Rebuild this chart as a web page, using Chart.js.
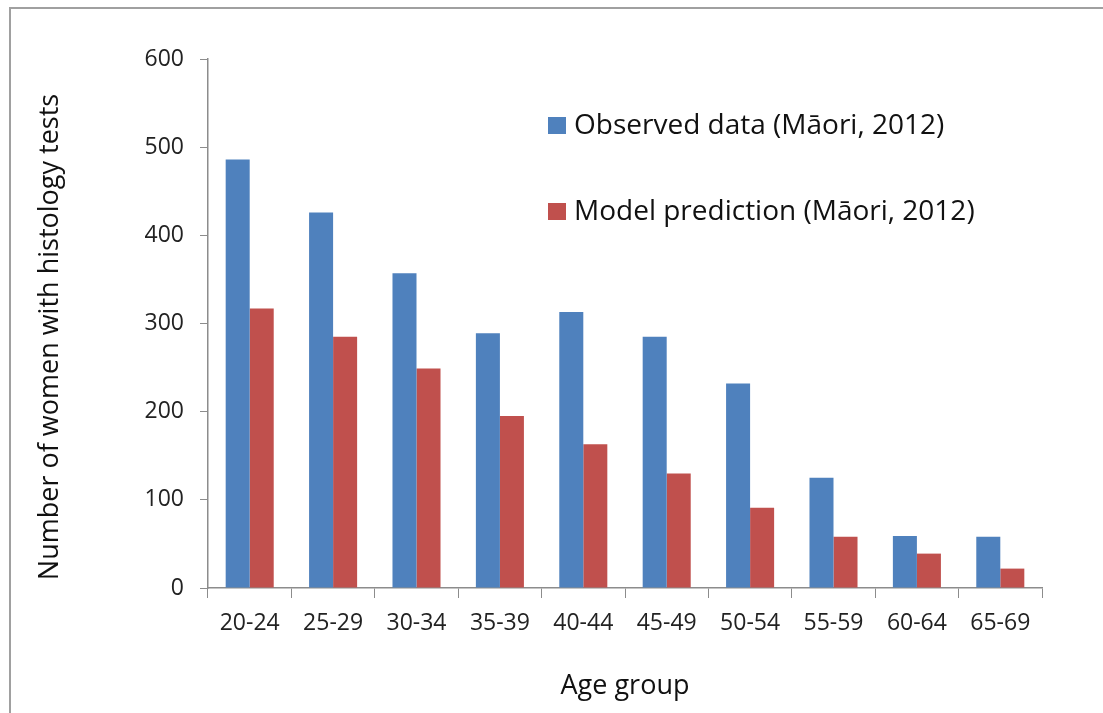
<!DOCTYPE html>
<html>
<head>
<meta charset="utf-8">
<script src="https://cdn.jsdelivr.net/npm/chart.js@4"></script>
<style>
  body { margin: 0; background: #fff; }
  #wrap { position: relative; width: 1103px; height: 713px; }
  #frame { position: absolute; left: 9px; top: 7px; right: -10px; bottom: -10px;
           border-top: 2px solid #a0a0a0; border-left: 2px solid #a0a0a0; pointer-events: none; }
</style>
</head>
<body>
<div id="wrap">
  <canvas id="chartBars" width="1103" height="713"></canvas>
  <div id="frame"></div>
</div>
<script>
// data
var ageGroups = ["20-24", "25-29", "30-34", "35-39", "40-44", "45-49", "50-54", "55-59", "60-64", "65-69"];
var observed = [486, 426, 357, 289, 313, 285, 232, 125, 59, 58];
var predicted = [317, 285, 249, 195, 163, 130, 91, 58, 39, 22];
var seriesNames = ["Observed data (Māori, 2012)", "Model prediction (Māori, 2012)"];
var yTicks = [0, 100, 200, 300, 400, 500, 600];
var yTitle = "Number of women with histology tests";

var fontName = "'Open Sans', sans-serif";
var axisGrey = "#8c8c8c";

// legend sits inside the plot and the y title is off-centre, so draw them by hand
var extraText = {
  id: 'extraText',
  afterDraw: function(chart) {
    var ctx = chart.ctx;
    ctx.save();
    ctx.font = "28px " + fontName;
    ctx.textBaseline = "middle";
    var rows = [125, 211];
    chart.data.datasets.forEach(function(ds, i) {
      ctx.fillStyle = ds.backgroundColor;
      ctx.fillRect(548, rows[i] - 8, 18, 17);
      ctx.fillStyle = "#111";
      ctx.fillText(ds.label, 574, rows[i] + 1);
    });
    ctx.restore();

    ctx.save();
    ctx.font = "27px " + fontName;
    ctx.fillStyle = "#111";
    ctx.textAlign = "center";
    ctx.textBaseline = "middle";
    ctx.translate(50, 337);
    ctx.rotate(-Math.PI / 2);
    ctx.fillText(yTitle, 0, 0);
    ctx.restore();
  }
};

var chartBars = document.getElementById("chartBars");
if (chartBars) {
  var myChart = new Chart(chartBars, {
    type: 'bar',
    data: {
      labels: ageGroups,
      datasets: [{
        label: seriesNames[0],
        backgroundColor: "#4F81BD",
        data: observed
      }, {
        label: seriesNames[1],
        backgroundColor: "#C0504D",
        data: predicted
      }]
    },
    plugins: [extraText],
    options: {
      responsive: false,
      animation: false,
      layout: { padding: { left: 0, right: 61, top: 59, bottom: 0 } },
      categoryPercentage: 0.576,
      barPercentage: 1,
      plugins: {
        legend: { display: false },
        tooltip: { enabled: false }
      },
      scales: {
        x: {
          grid: { display: true, drawOnChartArea: false, tickLength: 10, color: axisGrey, offset: true },
          border: { color: axisGrey, width: 1.5 },
          ticks: { color: "#222", font: { family: fontName, size: 23 }, padding: 12, maxRotation: 0 },
          title: { display: true, text: "Age group", color: "#111", font: { family: fontName, size: 27 }, padding: { top: 0, bottom: 10 } },
          afterFit: function(s) { s.height = 125; }
        },
        y: {
          min: 0,
          max: 600,
          afterBuildTicks: function(s) { s.ticks = yTicks.map(function(v) { return { value: v }; }); },
          grid: { display: true, drawOnChartArea: false, tickLength: 8, color: axisGrey },
          border: { color: axisGrey, width: 1.5 },
          ticks: { color: "#222", font: { family: fontName, size: 23 }, padding: 16 },
          afterFit: function(s) { s.width = 208; }
        }
      }
    }
  });
}
</script>
</body>
</html>
